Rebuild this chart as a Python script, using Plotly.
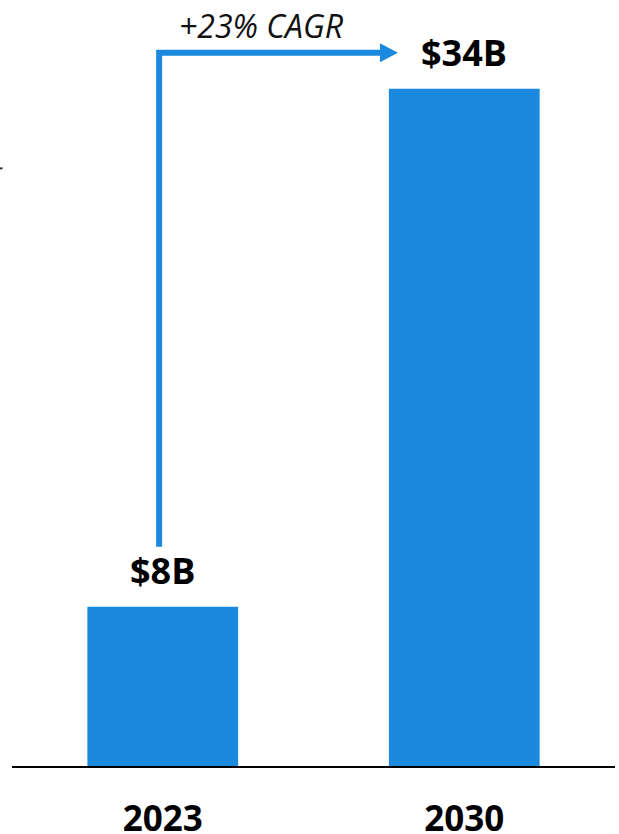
import plotly.graph_objects as go

# Market size by year (billions USD)
years = ["2023", "2030"]
values = [8, 34]
value_labels = ["$8B", "$34B"]
growth_label = "+23% CAGR"

BLUE = "#1a89de"
FONT = "Open Sans"

W, H = 619, 834
ML, MR, MT, MB = 12, 4, 9, 68
x_pos = list(range(len(years)))

fig = go.Figure()
fig.add_trace(go.Bar(
    x=x_pos, y=values, width=0.5,
    marker=dict(color=BLUE, line=dict(width=0)),
    hoverinfo="skip",
))

# value labels above each bar
for xi, v, lab in zip(x_pos, values, value_labels):
    fig.add_annotation(
        x=xi, y=v, text=f"<b>{lab}</b>", showarrow=False,
        yanchor="bottom", yshift=10,
        font=dict(family=FONT, size=36, color="black"),
    )

# growth connector: up from the first bar's label, across to the second bar
x_start = x_pos[0] - 0.012
x_tip = x_pos[1] - 0.22
y_low = values[0] + 3.0
y_high = values[1] + 1.8
fig.add_shape(
    type="path", xref="x", yref="y",
    path=f"M {x_start} {y_low} L {x_start} {y_high} L {x_tip - 0.05} {y_high}",
    line=dict(color=BLUE, width=6), fillcolor="rgba(0,0,0,0)",
)
fig.add_shape(
    type="path", xref="x", yref="y",
    xsizemode="pixel", ysizemode="pixel",
    xanchor=x_tip, yanchor=y_high,
    path="M 0 0 L -18 9.5 L -18 -9.5 Z",
    fillcolor=BLUE, line=dict(width=0),
)
fig.add_annotation(
    x=(x_start + x_tip) / 2, y=y_high, text=f"<i>{growth_label}</i>",
    showarrow=False, yanchor="bottom", yshift=4, xshift=-17,
    font=dict(family=FONT, size=32, color="#111111"),
)

# small tick mark at the left edge
fig.add_shape(
    type="line", xref="paper", yref="y",
    x0=-12 / (W - ML - MR), x1=-9.5 / (W - ML - MR), y0=30, y1=30,
    line=dict(color="#333333", width=2),
)

fig.update_layout(
    width=W, height=H,
    margin=dict(l=ML, r=MR, t=MT, b=MB),
    paper_bgcolor="white", plot_bgcolor="white",
    showlegend=False,
    bargap=0.5,
    xaxis=dict(
        range=[-0.5, 1.5], tickvals=x_pos,
        ticktext=[f"<b>{y}</b>" for y in years],
        tickfont=dict(family=FONT, size=35, color="black"),
        showline=True, linecolor="black", linewidth=2,
        ticks="outside", ticklen=21, tickcolor="rgba(0,0,0,0)",
        showgrid=False, zeroline=False, fixedrange=True,
        automargin=False,
    ),
    yaxis=dict(
        range=[0, 38], visible=False, showgrid=False, zeroline=False,
        fixedrange=True, automargin=False,
    ),
)

fig.write_html("out.html", config={"displayModeBar": False})
